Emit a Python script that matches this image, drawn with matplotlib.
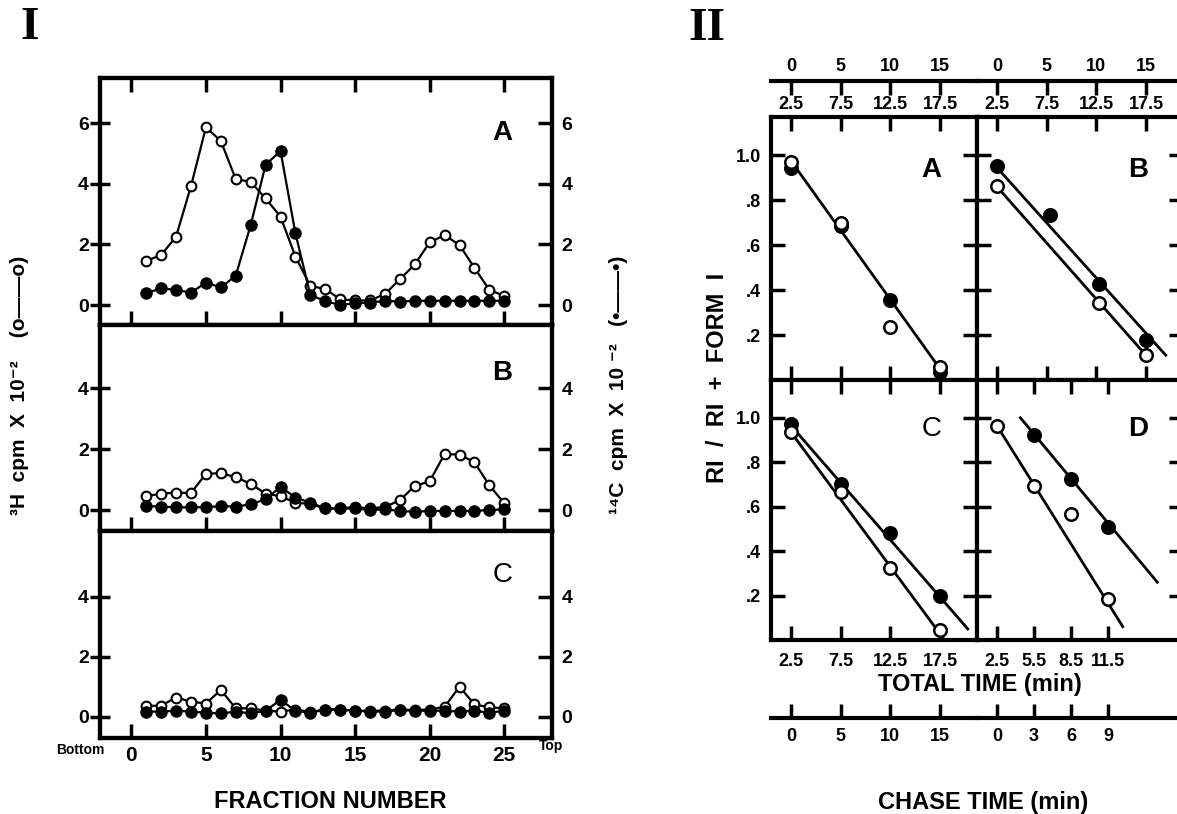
import matplotlib
matplotlib.use('Agg')
from matplotlib import pyplot as plt

plt.rcParams['font.family'] = ['Liberation Sans', 'DejaVu Sans']
plt.rcParams['font.weight'] = 'bold'
plt.rcParams['axes.linewidth'] = 3

# ---- panel I : sucrose gradient fractions (cpm x 10^-2)
fractions = list(range(1, 26))
h3_a = [1.46, 1.65, 2.26, 3.93, 5.87, 5.42, 4.16, 4.07, 3.52, 2.92, 1.60, 0.63, 0.53,
        0.19, 0.15, 0.15, 0.36, 0.85, 1.34, 2.07, 2.31, 1.98, 1.23, 0.50, 0.30]
c14_a = [0.39, 0.55, 0.50, 0.41, 0.74, 0.58, 0.97, 2.64, 4.63, 5.09, 2.37, 0.33, 0.13,
         0.00, 0.06, 0.08, 0.14, 0.11, 0.14, 0.14, 0.14, 0.14, 0.14, 0.14, 0.14]
h3_b = [0.45, 0.54, 0.57, 0.56, 1.19, 1.21, 1.08, 0.86, 0.54, 0.45, 0.24, 0.20, 0.05,
        0.05, 0.10, 0.05, 0.10, 0.32, 0.79, 0.94, 1.84, 1.82, 1.57, 0.81, 0.22]
c14_b = [0.13, 0.11, 0.09, 0.09, 0.09, 0.13, 0.11, 0.19, 0.35, 0.76, 0.41, 0.24, 0.05,
         0.05, 0.05, 0.00, 0.02, -0.03, -0.06, -0.03, -0.03, -0.03, -0.03, 0.00, 0.02]
h3_c = [0.36, 0.37, 0.64, 0.50, 0.44, 0.89, 0.28, 0.28, 0.20, 0.17, 0.24, 0.16, 0.24,
        0.24, 0.20, 0.20, 0.20, 0.24, 0.22, 0.24, 0.33, 1.00, 0.41, 0.31, 0.28]
c14_c = [0.17, 0.17, 0.20, 0.17, 0.13, 0.11, 0.17, 0.11, 0.20, 0.56, 0.20, 0.13, 0.24,
         0.24, 0.20, 0.17, 0.17, 0.22, 0.20, 0.20, 0.20, 0.17, 0.20, 0.13, 0.20]
frac_ticks = [0, 5, 10, 15, 20, 25]

# ---- panel II : RI / (RI + form I) vs total time (min)
a_t = [2.5, 7.5, 12.5, 17.5]
a_open = [0.97, 0.70, 0.235, 0.058]
a_fill = [0.945, 0.686, 0.355, 0.035]
b_open_t = [2.5, 12.8, 17.5]
b_open = [0.862, 0.342, 0.112]
b_fill_t = [2.5, 7.8, 12.8, 17.5]
b_fill = [0.952, 0.733, 0.427, 0.18]
c_t = [2.5, 7.5, 12.5, 17.5]
c_open = [0.934, 0.667, 0.322, 0.046]
c_fill = [0.972, 0.70, 0.48, 0.20]
d_open_t = [2.5, 5.5, 8.5, 11.5]
d_open = [0.964, 0.693, 0.566, 0.186]
d_fill_t = [5.5, 8.5, 11.5]
d_fill = [0.923, 0.723, 0.51]

# drawn regression lines (end points)
fit_a = ([2.5, 17.5], [0.975, 0.05])
fit_b_fill = ([2.5, 19.5], [0.945, 0.11])
fit_b_open = ([2.5, 17.5], [0.86, 0.11])
fit_c_fill = ([2.5, 20.3], [0.965, 0.05])
fit_c_open = ([2.5, 17.8], [0.935, 0.01])
fit_d_fill = ([4.4, 15.5], [1.0, 0.26])
fit_d_open = ([2.5, 12.7], [0.964, 0.06])

ri_ticks = [0.2, 0.4, 0.6, 0.8, 1.0]
ri_labels = ['.2', '.4', '.6', '.8', '1.0']
total_ticks = [2.5, 7.5, 12.5, 17.5]
total_ticks_d = [2.5, 5.5, 8.5, 11.5]
chase_ticks = [0, 5, 10, 15]
chase_ticks_d = [0, 3, 6, 9]

W, H = 1177, 814
fig = plt.figure(figsize=(W / 100, H / 100), dpi=100)


def box(l, t, r, b):
    return [l / W, 1 - b / H, (r - l) / W, (b - t) / H]


# ================= panel I
rows = [
    (78, 325, h3_a, c14_a, 'A', (-0.66, 7.5), [0, 2, 4, 6], 0.777, 'bold'),
    (325, 531, h3_b, c14_b, 'B', (-0.69, 6.08), [0, 2, 4], 0.767, 'bold'),
    (531, 738, h3_c, c14_c, 'C', (-0.71, 6.19), [0, 2, 4], 0.787, 'normal'),
]
for i, (top, bot, h3, c14, letter, ylim, yt, ly, lw8) in enumerate(rows):
    ax = fig.add_axes(box(100, top, 552, bot))
    ax.plot(fractions, h3, '-o', color='k', mfc='white', ms=7, mew=1.5, lw=1.6)
    ax.set_xlim(-2.1, 28.2)
    ax.set_ylim(*ylim)
    ax.set_yticks(yt)
    ax.set_xticks(frac_ticks)
    ax.tick_params(axis='y', direction='inout', length=14, width=2.5,
                   labelsize=14, pad=1)
    ax.tick_params(axis='x', direction='in', length=10, width=2.5,
                   top=(i == 0), labelbottom=(i == 2), labelsize=15, pad=6)
    ax2 = ax.twinx()
    ax2.plot(fractions, c14, '-o', color='k', ms=8, lw=1.6)
    ax2.set_ylim(*ylim)
    ax2.set_yticks(yt)
    ax2.tick_params(axis='y', direction='in', length=10, width=2.5,
                    labelsize=14, pad=7)
    ax.text(0.89, ly, letter, transform=ax.transAxes, fontsize=20,
            fontweight=lw8, ha='center', va='center')

fig.text(80 / W, 1 - 750 / H, 'Bottom', fontsize=10, ha='center', va='center')
fig.text(551 / W, 1 - 746 / H, 'Top', fontsize=10, ha='center', va='center')
fig.text(330 / W, 1 - 802 / H, 'FRACTION NUMBER', fontsize=17,
         ha='center', va='center')
fig.text(20 / W, 1 - 385 / H, '³H  cpm  X  10⁻²    (o——o)', rotation=90,
         fontsize=15, ha='center', va='center')
fig.text(618 / W, 1 - 385 / H, '¹⁴C  cpm  X  10 ⁻²   (•——•)', rotation=90,
         fontsize=15, ha='center', va='center')
fig.text(30 / W, 1 - 28 / H, 'I', family='Liberation Serif', fontsize=34,
         ha='center', va='center')
fig.text(707 / W, 1 - 29 / H, 'II', family='Liberation Serif', fontsize=34,
         ha='center', va='center')

# ================= panel II
axA = fig.add_axes(box(771, 117, 977, 380))
axB = fig.add_axes(box(977, 117, 1183, 380))
axC = fig.add_axes(box(771, 380, 977, 640))
axD = fig.add_axes(box(977, 380, 1183, 640))

mk = dict(color='k', ms=9, lw=0, mew=1.8)
axA.plot(*fit_a, color='k', lw=2)
axA.plot(a_t, a_fill, 'o', **mk)
axA.plot(a_t, a_open, 'o', mfc='white', **mk)

axB.plot(*fit_b_fill, color='k', lw=2)
axB.plot(*fit_b_open, color='k', lw=2)
axB.plot(b_fill_t, b_fill, 'o', **mk)
axB.plot(b_open_t, b_open, 'o', mfc='white', **mk)

axC.plot(*fit_c_fill, color='k', lw=2)
axC.plot(*fit_c_open, color='k', lw=2)
axC.plot(c_t, c_fill, 'o', **mk)
axC.plot(c_t, c_open, 'o', mfc='white', **mk)

axD.plot(*fit_d_fill, color='k', lw=2)
axD.plot(*fit_d_open, color='k', lw=2)
axD.plot(d_fill_t, d_fill, 'o', **mk)
axD.plot(d_open_t, d_open, 'o', mfc='white', **mk)

panels = [
    (axA, (0.49, 21.23), total_ticks, 'A', 0.80, 'bold', True),
    (axB, (0.49, 21.23), total_ticks, 'B', 0.80, 'bold', True),
    (axC, (0.49, 21.23), total_ticks, 'C', 0.81, 'normal', False),
    (axD, (0.88, 17.58), total_ticks_d, 'D', 0.81, 'bold', False),
]
for ax, xlim, xt, letter, ly, fw, upper in panels:
    ax.set_xlim(*xlim)
    ax.set_ylim(0, 1.17)
    ax.set_xticks(xt)
    ax.set_xticklabels([f'{v:g}' for v in xt])
    ax.set_yticks(ri_ticks)
    left = ax in (axA, axC)
    ax.set_yticklabels(ri_labels if left else [])
    ax.tick_params(axis='y', direction='in', length=10, width=2.5,
                   left=True, right=True, labelsize=13, pad=7)
    ax.tick_params(axis='x', direction='in', length=10, width=2.5,
                   top=True, bottom=True, labeltop=upper, labelbottom=not upper,
                   labelsize=13, pad=(3 if upper else 9))
    ax.text(0.78, ly, letter, transform=ax.transAxes, fontsize=20,
            fontweight=fw, ha='center', va='center')

to_chase = (lambda t: t - 2.5, lambda c: c + 2.5)
for ax, loc, ct in [(axA, (380 - 81) / 263, chase_ticks),
                    (axB, (380 - 81) / 263, chase_ticks),
                    (axC, (640 - 718) / 260, chase_ticks),
                    (axD, (640 - 718) / 260, chase_ticks_d)]:
    sec = ax.secondary_xaxis(loc, functions=to_chase)
    sec.set_xticks(ct)
    sec.tick_params(direction='in', length=10, width=2.5, labelsize=13,
                    pad=(4 if loc > 0.5 else 7))
    for s in sec.spines.values():
        s.set_linewidth(3)

fig.text(718 / W, 1 - 378 / H, 'RI  /  RI  +  FORM  I', rotation=90,
         fontsize=17, ha='center', va='center')
fig.text(980 / W, 1 - 685 / H, 'TOTAL TIME (min)', fontsize=17,
         ha='center', va='center')
fig.text(983 / W, 1 - 802 / H, 'CHASE TIME (min)', fontsize=17,
         ha='center', va='center')

fig.savefig('out.png', dpi=100)
